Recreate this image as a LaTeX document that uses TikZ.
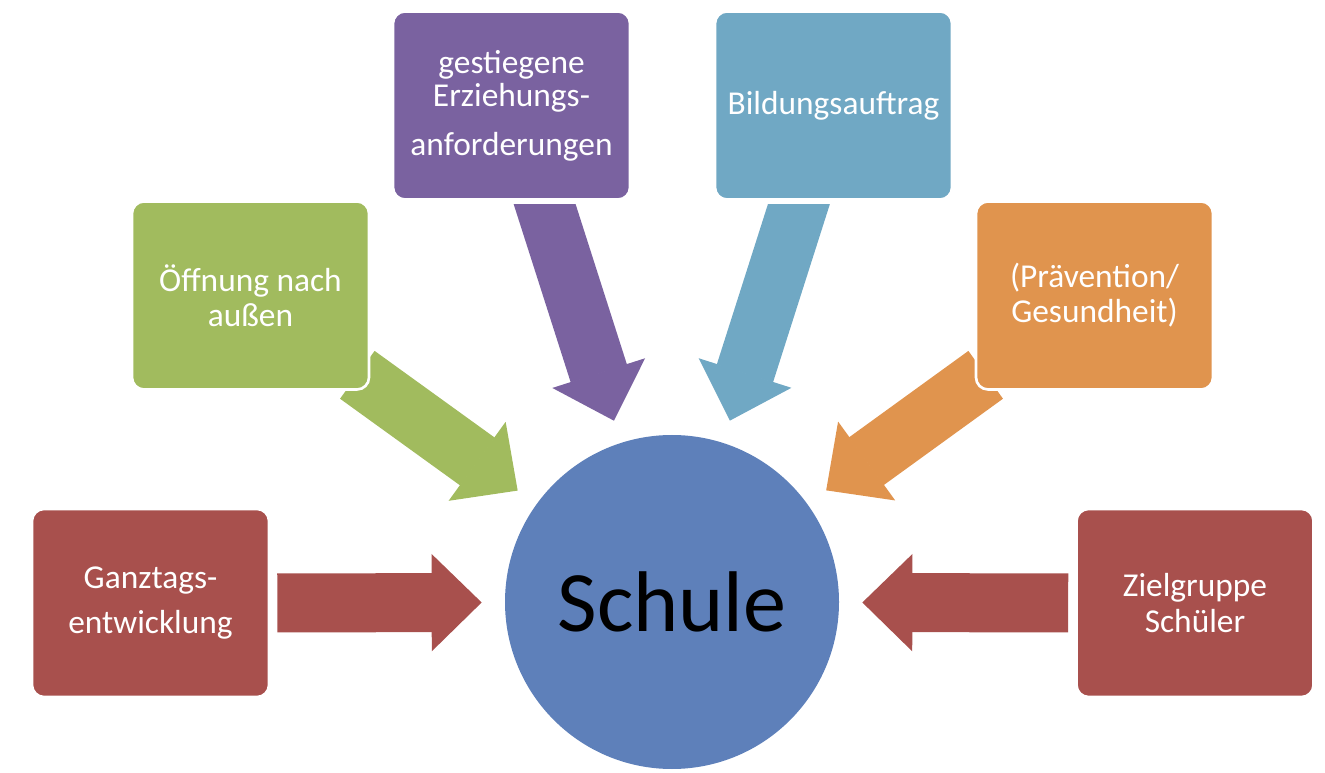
\documentclass[tikz,border=0pt]{standalone}
\usepackage{fontspec}
\setmainfont{Carlito}
\usetikzlibrary{arrows.meta}
\usetikzlibrary{backgrounds}

\definecolor{ganzred}{HTML}{A8504D}
\definecolor{oeffgreen}{HTML}{A1BB5E}
\definecolor{erzpurple}{HTML}{7A62A0}
\definecolor{bildblue}{HTML}{70A8C4}
\definecolor{praevorange}{HTML}{E0944E}
\definecolor{schulblue}{HTML}{5E80BA}

\begin{document}
\begin{tikzpicture}[
    box/.style={rectangle, rounded corners=0.24cm, draw=white, line width=1.5pt,
        minimum width=4.74cm, minimum height=3.76cm, align=center, text=white,
        font=\fontsize{19}{20}\selectfont},
    fatarrow/.style={line width=1.18cm, shorten >=0.46cm,
        -{Triangle[length=1cm, width=1.94cm, line width=1.2pt]}}
    ]
        \useasboundingbox (0,0) rectangle (26.5,15.44);
        \node[circle, fill=schulblue, minimum size=6.68cm, inner sep=0pt,
            font=\fontsize{49}{58}\selectfont] (schule) at (13.44,3.40) {Schule};
        \node[box, fill=ganzred] (ganz) at (3.01,3.38) {Ganztags-\\[5.6pt]entwicklung};
        \node[box, fill=ganzred] (ziel) at (23.90,3.38) {Zielgruppe\\[1pt]Schüler};
        \node[box, fill=oeffgreen] (oeff) at (5.01,9.53) {Öffnung nach\\außen};
        \node[box, fill=praevorange] (praev) at (21.89,9.53) {(Prävention/\\Gesundheit)};
        \node[box, fill=erzpurple] (erz) at (10.23,13.33) {gestiegene\\[-1.2pt]Erziehungs-\\[8pt]anforderungen};
        \node[box, fill=bildblue] (bild) at (16.67,13.33) {Bildungsauftrag};
        \begin{scope}[on background layer]
            \clip (0,0) rectangle (26.5,11.34);
            \draw[fatarrow, ganzred] ([xshift=0.14cm]ganz.east) -- (schule);
            \draw[fatarrow, ganzred] ([xshift=-0.14cm]ziel.west) -- (schule);
            \draw[fatarrow, oeffgreen] ([shift={(-0.26,0.32)}]oeff.south east) -- (schule);
            \draw[fatarrow, praevorange] ([shift={(0.22,0.32)}]praev.south west) -- (schule);
            \draw[fatarrow, erzpurple] ([shift={(0.59,0.16)}]erz.south) -- (schule);
            \draw[fatarrow, bildblue] ([shift={(-0.62,0.16)}]bild.south) -- (schule);
        \end{scope}
\end{tikzpicture}
\end{document}
